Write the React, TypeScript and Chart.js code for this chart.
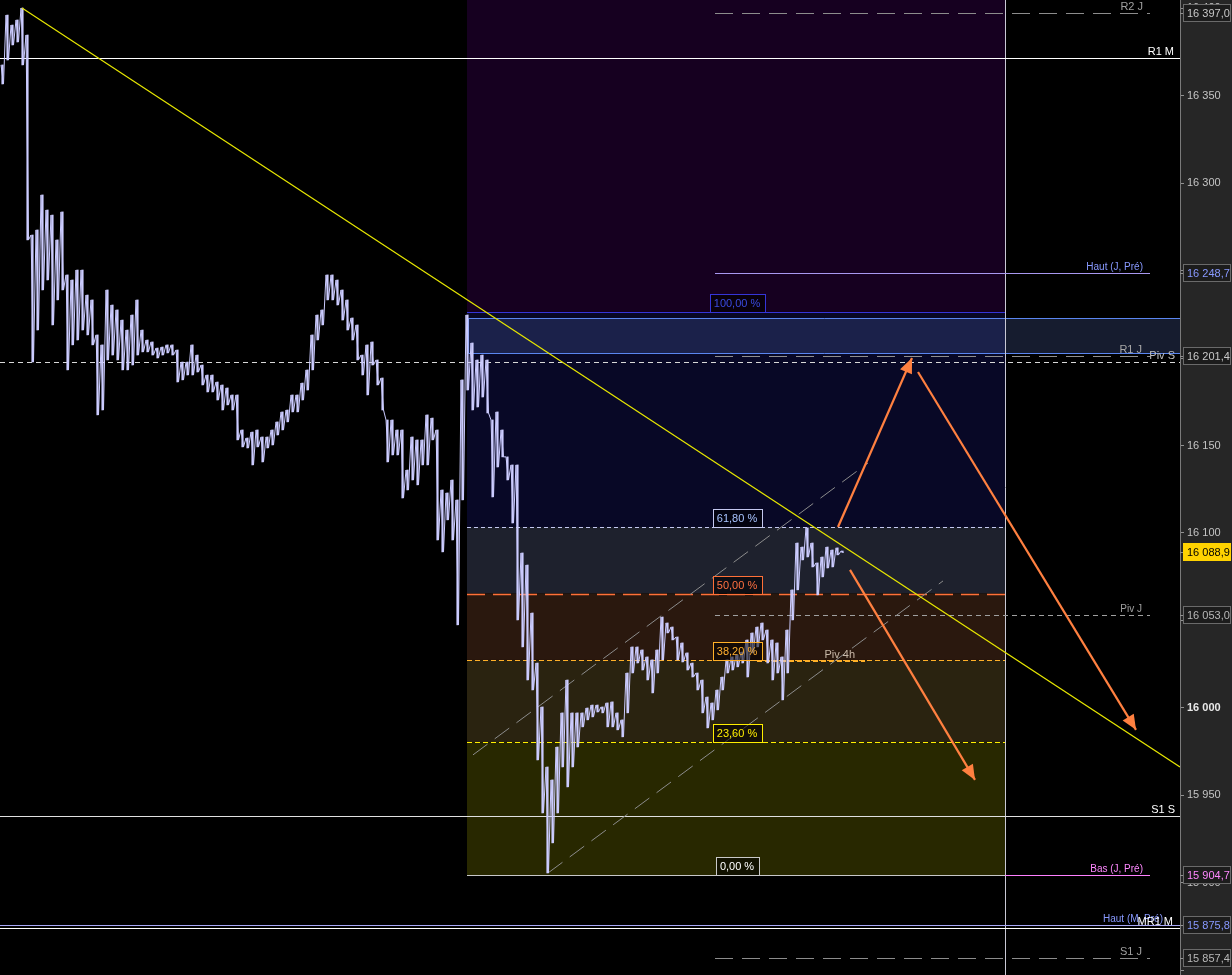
import React, { useEffect, useRef } from "react";
import { Chart, registerables } from "chart.js";

Chart.register(...registerables);

const FONT = "'Liberation Sans', Arial, sans-serif";

// ---- scale ranges ----
const Y_MIN = 15847.4;
const Y_MAX = 16404.6;
const T_MIN = 0;
const T_MAX = 1180;
const BUCKET = 5; // minutes per bucket

// ---- price series (bucket highs / lows) ----
const priceHigh = [
  16367.5, 16396.0, 16390.3, 16393.2, 16400.0, 16384.6, 16270.3, 16273.2, 16293.2, 16284.6,
  16281.7, 16267.5, 16283.5, 16247.5, 16244.6, 16250.3, 16250.3, 16236.0, 16233.2, 16213.2,
  16207.5, 16238.9, 16230.3, 16227.5, 16221.7, 16216.0, 16224.6, 16233.2, 16216.0, 16210.3,
  16209.2, 16205.7, 16206.3, 16207.5, 16207.5, 16204.6, 16197.7, 16197.7, 16207.5, 16201.7,
  16196.0, 16190.3, 16190.3, 16186.3, 16184.6, 16182.9, 16178.9, 16178.9, 16158.9, 16154.3,
  16157.7, 16158.9, 16154.9, 16154.9, 16158.9, 16163.5, 16169.2, 16170.3, 16178.9, 16178.9,
  16185.7, 16193.2, 16213.2, 16224.6, 16227.5, 16247.5, 16247.5, 16244.6, 16238.9, 16233.2,
  16222.9, 16218.9, 16201.7, 16207.5, 16209.2, 16198.9, 16188.6, 16164.6, 16164.6, 16158.9,
  16158.9, 16136.0, 16154.9, 16153.2, 16153.2, 16167.5, 16165.7, 16158.9, 16124.6, 16122.9,
  16130.3, 16118.9, 16187.5, 16224.6, 16208.6, 16198.9, 16201.7, 16198.9, 16164.6, 16169.2,
  16158.9, 16143.5, 16138.9, 16138.9, 16088.6, 16081.7, 16054.3, 16025.7, 16000.6, 15966.3,
  15958.9, 15977.7, 15997.2, 16016.0, 15997.2, 15997.2, 15997.2, 16000.0, 16001.7, 16001.7,
  16000.6, 16002.9, 16003.5, 15997.2, 15993.2, 16020.0, 16034.9, 16034.9, 16033.2, 16029.2,
  16027.5, 16033.2, 16052.0, 16048.6, 16046.3, 16040.6, 16037.2, 16031.5, 16025.7, 16020.0,
  16016.0, 16006.3, 16002.9, 16010.3, 16017.7, 16027.5, 16029.2, 16030.3, 16032.0, 16038.9,
  16042.9, 16046.3, 16048.6, 16044.6, 16038.9, 16037.2, 16029.2, 16044.6, 16067.5, 16094.3,
  16092.0, 16102.9, 16094.3, 16082.9, 16086.3, 16092.0, 16090.3, 16091.5, 16089.7,
];
const priceLow = [
  16356.6, 16370.3, 16378.9, 16380.6, 16367.5, 16267.5, 16197.7, 16216.0, 16238.9, 16244.6,
  16218.9, 16233.2, 16238.9, 16193.2, 16207.5, 16210.3, 16216.0, 16213.2, 16207.5, 16167.5,
  16170.3, 16198.9, 16201.7, 16198.9, 16193.2, 16193.2, 16196.0, 16201.7, 16203.5, 16203.5,
  16201.7, 16200.0, 16201.7, 16202.9, 16201.7, 16186.3, 16187.5, 16190.3, 16190.3, 16192.0,
  16184.6, 16180.6, 16180.6, 16176.0, 16170.3, 16173.2, 16170.3, 16153.2, 16149.2, 16148.6,
  16138.9, 16149.2, 16140.6, 16148.6, 16150.3, 16156.0, 16158.9, 16163.5, 16169.2, 16169.2,
  16176.0, 16181.7, 16193.2, 16210.3, 16218.9, 16233.2, 16233.2, 16230.3, 16221.7, 16216.0,
  16210.3, 16198.9, 16190.3, 16178.9, 16196.0, 16184.6, 16170.3, 16140.6, 16144.6, 16144.6,
  16120.0, 16124.6, 16130.3, 16127.5, 16138.9, 16138.9, 16153.2, 16096.0, 16089.2, 16107.5,
  16096.0, 16047.5, 16118.9, 16181.7, 16170.3, 16172.0, 16177.7, 16168.6, 16120.6, 16137.7,
  16143.5, 16130.3, 16105.7, 16050.3, 16034.9, 16016.0, 16010.3, 15970.3, 15940.0, 15905.7,
  15922.9, 15940.0, 15966.3, 15954.9, 15966.3, 15977.7, 15989.2, 15993.2, 15994.9, 15997.7,
  15997.2, 15989.2, 15989.2, 15987.5, 15983.5, 15997.2, 16020.0, 16025.7, 16021.7, 16016.0,
  16008.6, 16020.0, 16027.5, 16042.9, 16038.9, 16027.5, 16026.3, 16021.7, 16017.7, 16010.3,
  15997.2, 15988.6, 15993.2, 15998.9, 16010.3, 16020.0, 16021.7, 16023.5, 16025.7, 16017.7,
  16031.5, 16034.9, 16038.9, 16025.7, 16016.0, 16020.0, 16004.6, 16020.0, 16050.3, 16067.5,
  16084.6, 16086.3, 16080.6, 16064.6, 16074.9, 16080.0, 16080.6, 16087.5, 16088.9,
];
const lastPrice = 16088.9;

// ---- Fibonacci retracement ----
const fibLow = 15904.5;
const fibHigh = 16226.3;
const fibStartTime = 467;
const fibEndTime = 1005;
const fibRatios = [1, 0.618, 0.5, 0.382, 0.236, 0];
const fibLabels = ["100,00 %", "61,80 %", "50,00 %", "38,20 %", "23,60 %", "0,00 %"];
const fibLabelTime = 737;
const nowTime = 1005;

// ---- zone band (R1 area) ----
const bandTop = 16222.9;
const bandBottom = 16202.9;
const bandStartTime = 468;
const bandEndTime = 1180;

// ---- pivot / level lines ----
const levelNames = ["R2 J", "R1 M", "Haut (J, Pré)", "R1 J", "Piv S", "Piv J", "Piv 4h", "S1 S", "Bas (J, Pré)", "Haut (M, Pré)", "MR1 M", "S1 J"];
const levelValues = [16397.0, 16371.5, 16248.7, 16201.4, 16197.7, 16053.0, 16026.9, 15938.3, 15904.7, 15875.8, 15874.0, 15857.4];
const levelFrom = [715, 0, 715, 715, 0, 715, 757, 0, 757, 0, 0, 715];
const levelTo = [1150, 1180, 1150, 1150, 1180, 1150, 865, 1180, 1150, 1180, 1180, 1150];

// ---- price-axis markers ----
const axisMarkValues = [16397.0, 16248.7, 16201.4, 16053.0, 15904.7, 15875.8, 15857.4, lastPrice];

// ---- trend line & channel ----
const trendTimes = [22, 1180];
const trendPrices = [16400.0, 15966.3];
const channelUpperTimes = [473, 868];
const channelUpperPrices = [15973.2, 16140.0];
const channelLowerTimes = [548, 943];
const channelLowerPrices = [15905.7, 16072.6];

// ---- projection arrows ----
const arrowFromTimes = [838, 918, 850];
const arrowFromPrices = [16103.4, 16192.0, 16078.9];
const arrowToTimes = [912, 1136, 975];
const arrowToPrices = [16200.0, 15987.5, 15958.9];

// ---- styles ----
const zoneColors = ["rgb(22,0,32)", "rgb(8,8,38)", "rgb(30,33,45)", "rgb(42,24,14)", "rgb(42,35,16)", "rgb(40,40,0)"];
const fibLineColors = ["#3535d8", "#c4c8f0", "#ff7038", "#ffb028", "#ffee00", "#c8c8c8"];
const fibDashes = [[], [4, 3], [18, 8], [5, 3], [5, 3], []];
const fibTextColors = ["#3a4ae0", "#a8c4ff", "#ff7040", "#ffb030", "#ffee00", "#ffffff"];
const levelColors = ["#8c8c8c", "#ffffff", "#a898f0", "#909090", "#d8d8d8", "#a0a0a0", "#ffb028", "#e0e0e0", "#ff80ff", "#a8a8f8", "#ffffff", "#8c8c8c"];
const levelDashes = [[18, 9], [], [], [18, 9], [5, 4], [5, 4], [5, 3], [], [], [], [], [18, 9]];
const levelWidths = [1, 1, 1, 1, 1, 1, 2, 1, 1, 1, 1, 1];
const levelTextColors = ["#a0a0a0", "#ffffff", "#8899ff", "#a8a8a8", "#c0c0c0", "#a0a0a0", "#c8b8a8", "#ffffff", "#ff88ff", "#8899ff", "#ffffff", "#a0a0a0"];
const levelTextEnd = [1143, 1174, 1143, 1142, 1175, 1142, 855, 1175, 1143, 1163, 1173, 1142];
const levelTextSize = [11, 11, 10, 11, 11, 10, 11, 11, 10, 10, 11, 11];
const axisMarkText = ["#c8c8c8", "#8899ff", "#c8c8c8", "#b8b8b8", "#ff88ff", "#8899ff", "#b8b8b8", "#000000"];
const axisMarkFill = ["#1c1c1c", "#1c1c1c", "#1c1c1c", "#1c1c1c", "#1c1c1c", "#1c1c1c", "#1c1c1c", "#ffd200"];

const fmtInt = (v: number) => {
  const r = Math.round(v);
  return `${Math.floor(r / 1000)} ${String(r % 1000).padStart(3, "0")}`;
};
const fmtDec = (v: number) => {
  const r = Math.round(v * 10);
  const i = Math.floor(r / 10);
  const d = r % 10;
  return `${Math.floor(i / 1000)} ${String(i % 1000).padStart(3, "0")},${d}`;
};

function buildPricePoints() {
  const pts: { x: number; y: number }[] = [];
  for (let i = 0; i < priceHigh.length; i++) {
    const t = i * BUCKET;
    pts.push({ x: t + 1, y: priceHigh[i] });
    pts.push({ x: t + 3.5, y: priceLow[i] });
  }
  return pts;
}

function buildPriceRanges() {
  return priceHigh.map((h, i) => ({ x: i * BUCKET + 2.5, y: [priceLow[i], h] }));
}

const overlayPlugin = {
  id: "overlay",
  beforeDraw(chart: any) {
    const { ctx, width, height, chartArea } = chart;
    ctx.save();
    ctx.fillStyle = "#000";
    ctx.fillRect(0, 0, width, height);
    ctx.fillStyle = "#262626";
    ctx.fillRect(chartArea.right, 0, width - chartArea.right, height);
    ctx.restore();
  },
  beforeDatasetsDraw(chart: any) {
    const { ctx, chartArea } = chart;
    const xs = chart.scales.x;
    const ys = chart.scales.y;
    const px = (t: number) => xs.getPixelForValue(t);
    const py = (v: number) => ys.getPixelForValue(v);
    ctx.save();
    ctx.beginPath();
    ctx.rect(chartArea.left, chartArea.top, chartArea.right - chartArea.left, chartArea.bottom - chartArea.top);
    ctx.clip();

    const x0 = Math.round(px(fibStartTime));
    const x1 = Math.round(px(fibEndTime));
    const fibVals = fibRatios.map((r) => fibLow + r * (fibHigh - fibLow));
    ctx.fillStyle = zoneColors[0];
    ctx.fillRect(x0, chartArea.top, x1 - x0, py(fibVals[0]) - chartArea.top);
    for (let i = 0; i < fibVals.length - 1; i++) {
      ctx.fillStyle = zoneColors[i + 1];
      const a = py(fibVals[i]);
      const b = py(fibVals[i + 1]);
      ctx.fillRect(x0, a, x1 - x0, b - a);
    }

    // band
    const bx0 = Math.round(px(bandStartTime)) + 0.5;
    const bx1 = Math.round(px(bandEndTime));
    const by0 = Math.round(py(bandTop)) + 0.5;
    const by1 = Math.round(py(bandBottom)) + 0.5;
    ctx.fillStyle = "rgba(80,100,170,0.28)";
    ctx.fillRect(bx0, by0, bx1 - bx0, by1 - by0);
    ctx.strokeStyle = "#5a86f0";
    ctx.lineWidth = 1;
    ctx.beginPath();
    ctx.moveTo(bx1, by0);
    ctx.lineTo(bx0, by0);
    ctx.lineTo(bx0, by1);
    ctx.lineTo(bx1, by1);
    ctx.stroke();

    // current time vertical line
    const nx = Math.round(px(nowTime)) + 0.5;
    ctx.strokeStyle = "#c8c8d4";
    ctx.setLineDash([]);
    ctx.beginPath();
    ctx.moveTo(nx, chartArea.top);
    ctx.lineTo(nx, chartArea.bottom);
    ctx.stroke();

    // level lines
    for (let i = 0; i < levelValues.length; i++) {
      const y = Math.round(py(levelValues[i])) + (levelWidths[i] === 2 ? 0 : 0.5);
      ctx.strokeStyle = levelColors[i];
      ctx.lineWidth = levelWidths[i];
      ctx.setLineDash(levelDashes[i]);
      ctx.beginPath();
      ctx.moveTo(px(levelFrom[i]), y);
      ctx.lineTo(px(levelTo[i]), y);
      ctx.stroke();
    }

    // fib lines
    for (let i = 0; i < fibVals.length; i++) {
      const y = Math.round(py(fibVals[i])) + 0.5;
      ctx.strokeStyle = fibLineColors[i];
      ctx.lineWidth = i === 2 ? 1.5 : 1;
      ctx.setLineDash(fibDashes[i]);
      ctx.beginPath();
      ctx.moveTo(x0, y);
      ctx.lineTo(x1, y);
      ctx.stroke();
    }
    ctx.restore();
  },
  afterDatasetsDraw(chart: any) {
    const { ctx, chartArea, width } = chart;
    const xs = chart.scales.x;
    const ys = chart.scales.y;
    const px = (t: number) => xs.getPixelForValue(t);
    const py = (v: number) => ys.getPixelForValue(v);
    ctx.save();

    // arrowheads
    ctx.fillStyle = "#ff8040";
    for (let i = 0; i < arrowToTimes.length; i++) {
      const ax = px(arrowFromTimes[i]);
      const ay = py(arrowFromPrices[i]);
      const bx = px(arrowToTimes[i]);
      const by = py(arrowToPrices[i]);
      const ang = Math.atan2(by - ay, bx - ax);
      const L = 15;
      const W = 6.5;
      ctx.beginPath();
      ctx.moveTo(bx, by);
      ctx.lineTo(bx - L * Math.cos(ang) + W * Math.sin(ang), by - L * Math.sin(ang) - W * Math.cos(ang));
      ctx.lineTo(bx - L * Math.cos(ang) - W * Math.sin(ang), by - L * Math.sin(ang) + W * Math.cos(ang));
      ctx.closePath();
      ctx.fill();
    }

    // fib labels
    const fibVals = fibRatios.map((r) => fibLow + r * (fibHigh - fibLow));
    ctx.font = `11px ${FONT}`;
    ctx.textBaseline = "middle";
    ctx.textAlign = "center";
    ctx.setLineDash([]);
    const cx = px(fibLabelTime);
    for (let i = 0; i < fibVals.length; i++) {
      const y = Math.round(py(fibVals[i]));
      const tw = ctx.measureText(fibLabels[i]).width;
      const bw = Math.round(tw + 9);
      const bl = Math.round(cx - bw / 2) + 0.5;
      ctx.fillStyle = "rgba(0,0,0,0.55)";
      ctx.fillRect(bl, y - 18 + 0.5, bw, 18);
      ctx.strokeStyle = fibLineColors[i];
      ctx.lineWidth = 1;
      ctx.strokeRect(bl, y - 18 + 0.5, bw, 18);
      ctx.fillStyle = fibTextColors[i];
      ctx.fillText(fibLabels[i], cx, y - 8.5);
    }

    // level labels
    ctx.textAlign = "right";
    ctx.textBaseline = "alphabetic";
    for (let i = 0; i < levelNames.length; i++) {
      const y = Math.round(py(levelValues[i]));
      ctx.font = `${levelTextSize[i]}px ${FONT}`;
      ctx.fillStyle = levelTextColors[i];
      ctx.fillText(levelNames[i], px(levelTextEnd[i]), y - 3);
    }

    // axis markers
    ctx.font = `11px ${FONT}`;
    ctx.textAlign = "left";
    ctx.textBaseline = "middle";
    const left = chartArea.right;
    for (let i = 0; i < axisMarkValues.length; i++) {
      const y = Math.round(py(axisMarkValues[i]));
      ctx.strokeStyle = "#909090";
      ctx.beginPath();
      ctx.moveTo(left, y + 0.5);
      ctx.lineTo(left + 4, y + 0.5);
      ctx.stroke();
      const bx = left + 3.5;
      const bw = width - bx - 1.5;
      ctx.fillStyle = axisMarkFill[i];
      ctx.fillRect(bx, y - 8.5, bw, 17);
      ctx.strokeStyle = i === axisMarkValues.length - 1 ? "#ffd200" : "#6a6a6a";
      ctx.strokeRect(bx, y - 8.5, bw, 17);
      ctx.fillStyle = axisMarkText[i];
      ctx.fillText(fmtDec(axisMarkValues[i]), left + 7, y + 0.5);
    }
    ctx.restore();
  },
};

export default function App() {
  const canvasRef = useRef<HTMLCanvasElement | null>(null);

  useEffect(() => {
    const canvas = canvasRef.current;
    if (!canvas) return;
    const line2 = (ts: number[], ps: number[]) => ts.map((t, i) => ({ x: t, y: ps[i] }));
    const arrowSets = arrowFromTimes.map((_, i) => ({
      type: "line",
      data: [
        { x: arrowFromTimes[i], y: arrowFromPrices[i] },
        { x: arrowToTimes[i], y: arrowToPrices[i] },
      ],
      borderColor: "#ff8040",
      borderWidth: 2.2,
      pointRadius: 0,
      order: 1,
    }));
    const chart = new Chart(canvas, {
      type: "line",
      data: {
        datasets: [
          {
            type: "line",
            data: line2(channelUpperTimes, channelUpperPrices),
            borderColor: "#8c8c8c",
            borderWidth: 1,
            borderDash: [18, 9],
            pointRadius: 0,
            order: 6,
          },
          {
            type: "line",
            data: line2(channelLowerTimes, channelLowerPrices),
            borderColor: "#8c8c8c",
            borderWidth: 1,
            borderDash: [18, 9],
            pointRadius: 0,
            order: 6,
          },
          {
            type: "bar",
            data: buildPriceRanges(),
            backgroundColor: "#ccccff",
            borderWidth: 0,
            barThickness: 1.5,
            grouped: false,
            order: 5,
          },
          {
            type: "line",
            data: buildPricePoints(),
            borderColor: "#ccccff",
            borderWidth: 1,
            pointRadius: 0,
            tension: 0,
            order: 4,
          },
          {
            type: "line",
            data: line2(trendTimes, trendPrices),
            borderColor: "#e6e600",
            borderWidth: 1.2,
            pointRadius: 0,
            order: 3,
          },
          ...arrowSets,
        ] as any,
      },
      options: {
        animation: false,
        responsive: false,
        devicePixelRatio: 1,
        events: [],
        layout: { padding: 0 },
        plugins: { legend: { display: false }, tooltip: { enabled: false } },
        scales: {
          x: { type: "linear", min: T_MIN, max: T_MAX, display: false, offset: false },
          y: {
            type: "linear",
            position: "right",
            min: Y_MIN,
            max: Y_MAX,
            grid: { display: true, drawOnChartArea: false, drawTicks: true, tickLength: 4, color: "#909090" },
            border: { display: true, color: "#7a7a7a" },
            ticks: {
              stepSize: 50,
              includeBounds: false,
              padding: 3,
              color: (c: any) => (c.tick && c.tick.value === 16000 ? "#e8e8e8" : "#c4c4c4"),
              font: (c: any) => ({
                family: FONT,
                size: 11,
                weight: c.tick && c.tick.value === 16000 ? "bold" : "normal",
              }),
              callback: (v: any) => (Number(v) < 15860 ? "" : fmtInt(Number(v))),
            },
            afterFit: (scale: any) => {
              scale.width = 52;
              scale.paddingTop = 0;
              scale.paddingBottom = 0;
            },
          },
        },
      } as any,
      plugins: [overlayPlugin],
    });
    return () => chart.destroy();
  }, []);

  return (
    <div style={{ position: "fixed", left: 0, top: 0, width: 1232, height: 975, background: "#000" }}>
      <canvas ref={canvasRef} width={1232} height={975} style={{ display: "block" }} />
    </div>
  );
}
